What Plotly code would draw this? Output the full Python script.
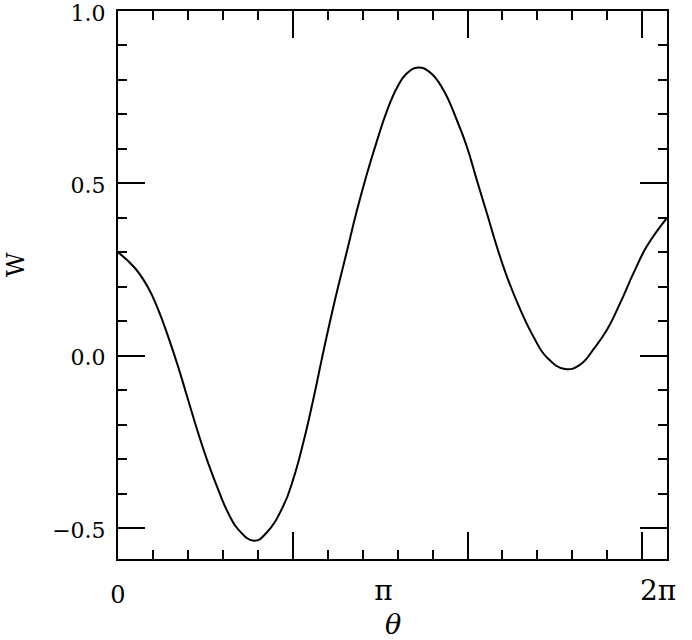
import plotly.graph_objects as go
import math

# Data
theta = [0.0, 0.191, 0.344, 0.458, 0.573, 0.687, 0.802, 0.917, 1.031, 1.146, 1.260, 1.375,
         1.56, 1.700, 1.890, 2.005, 2.120, 2.234, 2.349, 2.463, 2.617, 2.731, 2.846,
         2.961, 3.075, 3.19, 3.304, 3.437, 3.571, 3.724, 3.877, 3.992, 4.106, 4.221, 4.335,
         4.450, 4.602, 4.755, 4.908, 5.118, 5.290, 5.46, 5.596, 5.748, 5.901, 6.054,
         6.2832]
W = [0.300, 0.255, 0.198, 0.135, 0.056, -0.031, -0.128, -0.224, -0.311, -0.388, -0.456, -0.504,
     -0.537, -0.514, -0.437, -0.359, -0.253, -0.128, 0.010, 0.140, 0.300, 0.418, 0.525,
     0.621, 0.708, 0.776, 0.819, 0.836, 0.822, 0.771, 0.684, 0.607, 0.510, 0.414, 0.317,
     0.230, 0.135, 0.055, -0.005, -0.039, -0.026, 0.025, 0.075, 0.153, 0.240, 0.318,
     0.400]

x_range = [0, 2 * math.pi]
y_range = [-0.59, 1.0]
label_vals = [math.pi, 2 * math.pi]
label_text = ["π", "2π"]

FONT = "DejaVu Serif"

fig = go.Figure()
fig.add_trace(go.Scatter(x=theta, y=W, mode="lines",
                         line=dict(color="black", width=2, shape="spline", smoothing=1.3),
                         hoverinfo="skip", showlegend=False))
fig.add_trace(go.Scatter(x=x_range, y=[0, 0], xaxis="x2", mode="markers", marker=dict(opacity=0),
                         hoverinfo="skip", showlegend=False))

axis_common = dict(showgrid=False, zeroline=False, showline=True, linecolor="black", linewidth=2,
                   mirror="ticks", ticks="inside", tickcolor="black", tickwidth=2, ticklen=27,
                   automargin=False, ticklabeloverflow="allow")

fig.update_layout(
    width=692, height=640,
    margin=dict(l=118, r=25, t=11, b=81, pad=0),
    plot_bgcolor="white", paper_bgcolor="white",
    xaxis=dict(range=x_range, tickmode="array", tickvals=[0, 2, 4, 6], ticktext=["0", "", "", ""],
               ticklabelstandoff=13, tickfont=dict(family=FONT, size=24, color="black"),
               minor=dict(dtick=0.4, tick0=0, ticks="inside", ticklen=9, tickwidth=2, tickcolor="black"),
               **axis_common),
    xaxis2=dict(range=x_range, overlaying="x", anchor="y", side="bottom", tickmode="array",
                tickvals=label_vals, ticktext=label_text, ticks="", showline=False, showgrid=False,
                zeroline=False, ticklabelstandoff=12, ticklabelshift=-9, automargin=False,
                ticklabeloverflow="allow",
                tickfont=dict(family=FONT, size=28, color="black")),
    yaxis=dict(range=y_range, tickmode="linear", tick0=0, dtick=0.5, tickformat=".1f",
               ticklabelstandoff=6, ticklabelshift=2, tickfont=dict(family=FONT, size=22, color="black"),
               minor=dict(dtick=0.1, tick0=0, ticks="inside", ticklen=9, tickwidth=2, tickcolor="black"),
               **axis_common),
    annotations=[
        dict(text="<i>θ</i>", x=0.5, y=-0.1204, xref="paper", yref="paper", showarrow=False,
             font=dict(family=FONT, size=27, color="black"), xanchor="center", yanchor="middle"),
        dict(text="W", x=-0.2145, y=0.537, xref="paper", yref="paper", showarrow=False, textangle=-90,
             font=dict(family=FONT, size=24, color="black"), xanchor="left", yanchor="middle",
             borderpad=0),
    ],
)

# remove the browser's default 8px page margin so the figure sits at the window's corner
fig.write_html("out.html", config={"displayModeBar": False},
               post_script="document.body.style.margin='0';")
